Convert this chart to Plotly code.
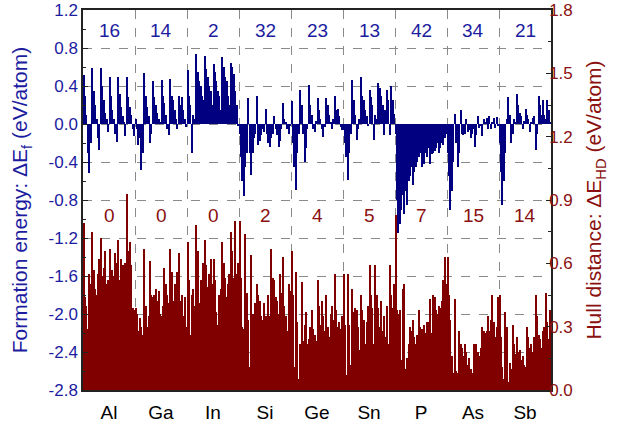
import plotly.graph_objects as go

elements = ["Al", "Ga", "In", "Si", "Ge", "Sn", "P", "As", "Sb"]
n_neg_ef = [16, 14, 2, 32, 23, 13, 42, 34, 21]
n_stable_hd = [0, 0, 0, 2, 4, 5, 7, 15, 14]

# Formation energy (eV/atom), per group
ef_Al = [0.52, 0.30, 0.10, -0.31, -0.52, -0.20, 0.59, 0.35, 0.20, 0.05, -0.15, -0.27,
         0.59, 0.40, 0.25, 0.12, 0.05, -0.08, 0.50, 0.30, 0.15, 0.05, -0.10, -0.19,
         0.50, 0.32, 0.18, 0.08, 0.02, -0.13, 0.49, 0.28, 0.18, 0.10, -0.05, -0.13]
ef_Ga = [0.05, -0.05, -0.22, -0.15, -0.48, -0.30, 0.54, 0.30, 0.18, 0.08, -0.20, -0.10,
         0.45, 0.28, 0.20, 0.12, 0.05, 0.02, 0.46, 0.30, 0.22, 0.10, -0.05, -0.12,
         0.47, 0.30, 0.25, 0.15, 0.05, -0.05, 0.29, 0.20, 0.28, 0.15, 0.05, -0.03]
ef_In = [0.57, 0.30, 0.20, -0.30, 0.10, 0.05, 0.74, 0.55, 0.45, 0.40, 0.30, 0.25,
         0.72, 0.58, 0.50, 0.40, 0.35, 0.20, 0.63, 0.55, 0.45, 0.35, 0.30, 0.15,
         0.71, 0.60, 0.50, 0.45, 0.30, 0.20, 0.64, 0.60, 0.53, 0.35, 0.20, -0.02]
ef_Si = [-0.10, -0.35, -0.60, -0.76, -0.45, -0.30, 0.27, -0.30, -0.54, -0.30, -0.15, -0.10,
         0.29, -0.22, -0.18, -0.12, -0.05, -0.08, 0.16, -0.10, -0.20, -0.24, -0.15, -0.10,
         0.08, -0.05, -0.12, -0.24, -0.18, -0.05, 0.22, 0.05, 0.02, -0.05, -0.10, -0.02]
ef_Ge = [0.24, -0.20, -0.45, -0.69, -0.30, -0.10, 0.36, 0.20, -0.10, -0.40, -0.25, -0.05,
         0.41, 0.20, 0.10, -0.05, -0.08, 0.03, 0.27, 0.15, 0.05, -0.05, -0.14, -0.03,
         0.27, 0.20, 0.10, 0.02, -0.05, 0.05, 0.29, 0.15, 0.16, 0.08, -0.03, -0.06]
ef_Sn = [-0.06, -0.20, -0.35, -0.59, -0.30, -0.10, 0.46, 0.25, 0.10, -0.17, -0.05, 0.05,
         0.49, 0.30, 0.25, 0.15, 0.08, -0.02, 0.36, 0.28, 0.20, -0.17, 0.10, 0.05,
         0.43, 0.38, 0.30, 0.20, -0.12, 0.15, 0.36, 0.25, -0.12, 0.40, 0.25, 0.11]
ef_P = [-0.10, -0.80, -1.15, -1.05, -0.90, -0.75, -0.95, -0.70, -0.85, -0.60, -0.55, -0.45,
        -0.64, -0.50, -0.45, -0.40, -0.35, -0.30, -0.45, -0.38, -0.42, -0.30, -0.35, -0.25,
        -0.42, -0.32, -0.30, -0.28, -0.25, -0.20, -0.30, -0.25, -0.20, -0.22, -0.15, -0.10]
ef_As = [-0.30, -0.55, -0.90, -0.70, -0.40, 0.11, -0.20, -0.45, -0.30, 0.15, -0.10, -0.12,
         -0.10, 0.05, -0.08, -0.06, -0.15, -0.10, -0.05, -0.24, -0.12, 0.08, -0.04, -0.02,
         -0.13, 0.05, 0.02, 0.06, -0.05, 0.08, -0.05, 0.02, 0.06, -0.04, 0.07, -0.02]
ef_Sb = [-0.20, -0.50, -0.85, -0.60, -0.30, 0.05, 0.28, 0.10, -0.20, -0.10, 0.05, 0.02,
         0.32, 0.20, 0.12, 0.08, -0.05, 0.03, 0.16, 0.10, 0.05, -0.08, 0.02, 0.06,
         0.08, -0.27, -0.10, 0.29, 0.20, 0.10, 0.25, 0.10, 0.05, 0.25, 0.15, 0.02]

# Hull distance (eV/atom), per group
hd_Al = [0.79, 0.44, 0.40, 0.29, 0.55, 0.50, 0.75, 0.57, 0.48, 0.45, 0.55, 0.62,
         0.72, 0.54, 0.58, 0.66, 0.50, 0.52, 0.67, 0.46, 0.57, 0.54, 0.65, 0.60,
         0.71, 0.52, 0.62, 0.59, 0.56, 0.60, 0.93, 0.66, 0.70, 0.59, 0.39, 0.38]
hd_Ga = [0.39, 0.36, 0.28, 0.34, 0.30, 0.26, 0.67, 0.40, 0.30, 0.35, 0.61, 0.45,
         0.44, 0.45, 0.48, 0.42, 0.47, 0.36, 0.35, 0.40, 0.58, 0.50, 0.45, 0.41,
         0.67, 0.56, 0.42, 0.50, 0.45, 0.56, 0.65, 0.42, 0.45, 0.35, 0.44, 0.30]
hd_In = [0.70, 0.52, 0.26, 0.45, 0.48, 0.40, 0.78, 0.66, 0.41, 0.52, 0.47, 0.60,
         0.71, 0.59, 0.49, 0.55, 0.62, 0.50, 0.62, 0.52, 0.37, 0.31, 0.45, 0.48,
         0.70, 0.60, 0.53, 0.44, 0.50, 0.55, 0.75, 0.66, 0.53, 0.80, 0.55, 0.60]
hd_Si = [0.80, 0.53, 0.30, 0.29, 0.74, 0.46, 0.33, 0.11, 0.64, 0.36, 0.33, 0.41,
         0.50, 0.45, 0.42, 0.35, 0.33, 0.41, 0.35, 0.30, 0.45, 0.35, 0.67, 0.53,
         0.52, 0.44, 0.42, 0.36, 0.55, 0.46, 0.63, 0.40, 0.35, 0.28, 0.50, 0.47]
hd_Ge = [0.66, 0.45, 0.11, 0.56, 0.32, 0.05, 0.22, 0.51, 0.23, 0.31, 0.37, 0.22,
         0.24, 0.30, 0.38, 0.29, 0.26, 0.23, 0.52, 0.40, 0.31, 0.42, 0.35, 0.28,
         0.45, 0.30, 0.25, 0.36, 0.40, 0.33, 0.55, 0.38, 0.30, 0.32, 0.29, 0.35]
hd_Sn = [0.55, 0.31, 0.07, 0.55, 0.31, 0.12, 0.48, 0.37, 0.39, 0.38, 0.30, 0.19,
         0.45, 0.38, 0.33, 0.22, 0.32, 0.40, 0.59, 0.45, 0.39, 0.22, 0.59, 0.45,
         0.39, 0.30, 0.42, 0.28, 0.35, 0.25, 0.40, 0.22, 0.59, 0.45, 0.39, 0.50]
hd_P = [0.83, 0.38, 0.36, 0.38, 0.14, 0.48, 0.50, 0.10, 0.15, 0.22, 0.30, 0.28,
        0.33, 0.25, 0.22, 0.26, 0.38, 0.30, 0.29, 0.28, 0.31, 0.27, 0.32, 0.32,
        0.43, 0.27, 0.45, 0.44, 0.38, 0.36, 0.40, 0.39, 0.42, 0.52, 0.63, 0.50]
hd_As = [0.63, 0.45, 0.33, 0.16, 0.08, 0.43, 0.09, 0.08, 0.28, 0.22, 0.20, 0.16,
         0.22, 0.18, 0.12, 0.15, 0.10, 0.08, 0.22, 0.20, 0.22, 0.18, 0.16, 0.20,
         0.30, 0.28, 0.27, 0.28, 0.35, 0.28, 0.33, 0.45, 0.32, 0.25, 0.30, 0.44]
hd_Sb = [0.45, 0.25, 0.11, 0.05, 0.37, 0.30, 0.04, 0.13, 0.10, 0.31, 0.22, 0.17,
         0.25, 0.18, 0.19, 0.14, 0.16, 0.12, 0.11, 0.30, 0.25, 0.20, 0.22, 0.18,
         0.25, 0.45, 0.35, 0.26, 0.24, 0.20, 0.28, 0.30, 0.46, 0.32, 0.24, 0.38]

ef_groups = [ef_Al, ef_Ga, ef_In, ef_Si, ef_Ge, ef_Sn, ef_P, ef_As, ef_Sb]
hd_groups = [hd_Al, hd_Ga, hd_In, hd_Si, hd_Ge, hd_Sn, hd_P, hd_As, hd_Sb]

ef = [v for g in ef_groups for v in g]
hd = [v for g in hd_groups for v in g]
N = len(ef)
xs = list(range(N))

sizes = [len(g) for g in ef_groups]
bounds = [-0.5]
for s in sizes:
    bounds.append(bounds[-1] + s)
centers = [(bounds[i] + bounds[i + 1]) / 2 for i in range(len(sizes))]
inner_bounds = bounds[1:-1]

BLUE = "#000080"
BLUE_TXT = "#1c1ca0"
RED = "#800000"
RED_TXT = "#8b1010"
FONT = "Liberation Sans, Arial, sans-serif"

left_ticks = [round(-2.8 + 0.4 * i, 1) for i in range(11)]
left_text = [f"{v:.1f}" if abs(v) > 1e-9 else "0.0" for v in left_ticks]
left_minor = [round(-2.6 + 0.4 * i, 1) for i in range(10)]
right_ticks = [round(0.3 * i, 1) for i in range(7)]
right_text = [f"{v:.1f}" for v in right_ticks]
right_minor = [round(0.15 + 0.3 * i, 2) for i in range(6)]

fig = go.Figure()
fig.add_trace(go.Bar(x=xs, y=ef, marker=dict(color=BLUE, line=dict(width=0)),
                     yaxis="y", xaxis="x", showlegend=False))
fig.add_trace(go.Bar(x=xs, y=hd, marker=dict(color=RED, line=dict(width=0)),
                     yaxis="y2", xaxis="x", showlegend=False))

annotations = []
for c, n in zip(centers, n_neg_ef):
    annotations.append(dict(x=c, y=0.98, xref="x", yref="y", text=str(n), showarrow=False,
                            font=dict(size=19, color=BLUE_TXT, family=FONT)))
for c, n in zip(centers, n_stable_hd):
    annotations.append(dict(x=c, y=-0.96, xref="x", yref="y", text=str(n), showarrow=False,
                            font=dict(size=19, color=RED_TXT, family=FONT)))

fig.update_layout(
    width=621, height=435,
    margin=dict(l=83, r=70, t=10, b=45),
    paper_bgcolor="white", plot_bgcolor="white",
    bargap=0, barmode="overlay",
    font=dict(family=FONT),
    annotations=annotations,
    xaxis=dict(range=[bounds[0], bounds[-1]], tickmode="array", tickvals=centers,
               ticktext=elements, ticks="", showgrid=False, zeroline=False, automargin=False,
               showline=True, linecolor="#222", linewidth=1.5, mirror=True,
               tickfont=dict(size=19, color="black", family=FONT), ticklabelstandoff=4,
               minor=dict(tickmode="array", tickvals=inner_bounds, showgrid=True,
                          gridcolor="#8a8a8a", griddash="dash", gridwidth=1, ticks="")),
    xaxis2=dict(range=[bounds[0], bounds[-1]], overlaying="x", side="top", anchor="y",
                tickmode="array", tickvals=inner_bounds, ticks="inside", ticklen=6,
                tickcolor="#222", tickwidth=1.5, showticklabels=False, showgrid=False,
                zeroline=False, showline=False, automargin=False),
    yaxis=dict(range=[-2.8, 1.2], tickmode="array", tickvals=left_ticks, ticktext=left_text,
               ticks="inside", ticklen=5, tickcolor="#222", tickwidth=1.2, automargin=False,
               showgrid=True, gridcolor="#8a8a8a", griddash="dash", gridwidth=1,
               zeroline=False, showline=True, linecolor="#222", linewidth=1.5,
               tickfont=dict(size=17, color=BLUE_TXT, family=FONT), ticklabelstandoff=0,
               ticklabeloverflow="allow",
               minor=dict(tickmode="array", tickvals=left_minor, ticks="inside", ticklen=3,
                          tickcolor="#222", showgrid=False),
               title=dict(text="Formation energy: ΔE<sub>f</sub> (eV/atom)",
                          font=dict(size=21, color=BLUE_TXT, family=FONT))),
    yaxis2=dict(range=[0, 1.8], overlaying="y", side="right", anchor="x",
                tickmode="array", tickvals=right_ticks, ticktext=right_text,
                ticks="inside", ticklen=5, tickcolor="#222", tickwidth=1.2, automargin=False,
                showgrid=False, zeroline=False, showline=True, linecolor="#222", linewidth=1.5,
                tickfont=dict(size=17, color=RED_TXT, family=FONT), ticklabelstandoff=-7,
                ticklabeloverflow="allow",
                minor=dict(tickmode="array", tickvals=right_minor, ticks="inside", ticklen=3,
                           tickcolor="#222", showgrid=False),
                title=dict(text="Hull distance: ΔE<sub>HD</sub> (eV/atom)",
                           font=dict(size=21, color=RED_TXT, family=FONT))),
)

fig.write_html("out.html", config={"displayModeBar": False},
               post_script="document.body.style.margin='0px';")
